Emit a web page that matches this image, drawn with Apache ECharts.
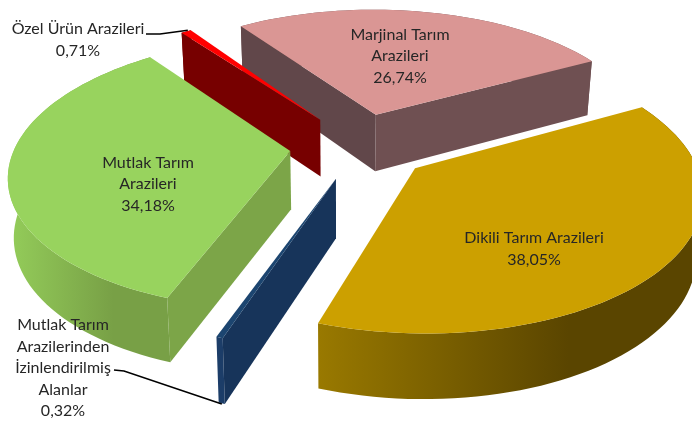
<!DOCTYPE html>
<html>
<head>
<meta charset="utf-8">
<style>html,body{margin:0;padding:0;background:#fff}#main{width:692px;height:422px}</style>
<script src="https://cdn.jsdelivr.net/npm/echarts@6/dist/echarts.min.js"></script>
</head>
<body>
<div id="main"></div>
<script>
// pie order, clockwise from the Marjinal / Dikili boundary
var categories = ['Dikili Tarım Arazileri', 'Mutlak Tarım\nArazilerinden\nİzinlendirilmiş\nAlanlar', 'Mutlak Tarım\nArazileri', 'Özel Ürün Arazileri', 'Marjinal Tarım\nArazileri'];
var values = [38.05, 0.32, 34.18, 0.71, 26.74];

// look of each slice, same order as above
var topColors = ['#cca000', '#1c4570', '#98d35e', '#ff0000', '#da9694'];
var startWall = ['#5a4500', '#17345a', '#7ca548', '#770000', '#61474a'];
var endWall = ['#5a4500', '#17345a', '#7ca548', '#770000', '#6f5052'];
var arcWall = [['#997900', '#5a4500'], ['#1c3d68', '#1c3d68'], ['#94cd5a', '#78a046'], ['#770000', '#770000'], ['#6f5052', '#6f5052']];
var paintOrder = [40, 30, 20, 10, 0];
var labelAt = [[534, 249], [63, 368], [148, 184], [78, 40], [400, 56]];

// pie plane -> page, a simple perspective view from above
var startAngle = -28.3, explode = 0.255;
var cx = 360, cy = 146, rx = 275, ry = 131, persp = 0.16;
var depth = 58, depthPersp = 0.1, shrink = 0.982;

function rad(d) { return d * Math.PI / 180; }

function project(u, v, bottom)
{
    var w = 1 - persp * v;
    var x = cx + rx * u / w;
    var y = cy + ry * v / w;
    if (bottom)
    {
        x = 340 + (x - 340) * shrink;
        y = y + depth / (1 - depthPersp * v);
    }
    return [x, y];
}

var myChart = echarts.init(document.getElementById('main'));

function renderSlice(params, api)
{
    var i = params.dataIndex;
    var total = values.reduce(function (a, b) { return a + b; }, 0);
    var before = 0;
    for (var k = 0; k < i; k++) before += values[k];
    var t0 = startAngle + before / total * 360;
    var t1 = t0 + api.value(0) / total * 360;
    var mid = rad((t0 + t1) / 2);
    var u0 = explode * Math.cos(mid), v0 = explode * Math.sin(mid);

    var pt = function (t, bottom)
    {
        return api.coord(project(u0 + Math.cos(rad(t)), v0 + Math.sin(rad(t)), bottom));
    };
    var apex = function (bottom) { return api.coord(project(u0, v0, bottom)); };

    var topArc = [], lowArc = [];
    var n = Math.max(2, Math.ceil((t1 - t0) / 2));
    for (var s = 0; s <= n; s++)
    {
        var t = t0 + (t1 - t0) * s / n;
        topArc.push(pt(t, false));
        lowArc.push(pt(t, true));
    }

    var z = paintOrder[i];
    var children = [];
    var poly = function (points, fill, z2)
    {
        children.push({ type: 'polygon', shape: { points: points }, z2: z2, style: { fill: fill } });
    };
    var area = function (p)
    {
        var a = 0;
        for (var j = 0; j < p.length; j++)
        {
            var q = p[(j + 1) % p.length];
            a += p[j][0] * q[1] - q[0] * p[j][1];
        }
        return a;
    };

    // outer wall first, then whichever cut walls face the camera
    poly(topArc.concat(lowArc.slice().reverse()), new echarts.graphic.LinearGradient(0, 0, 1, 0, [
        { offset: 0, color: arcWall[i][0] },
        { offset: 0.65, color: arcWall[i][1] },
        { offset: 1, color: arcWall[i][1] }
    ]), z);
    var w0 = [apex(false), pt(t0, false), pt(t0, true), apex(true)];
    var w1 = [pt(t1, false), apex(false), apex(true), pt(t1, true)];
    if (area(w0) < 0) poly(w0, startWall[i], z + 1);
    if (area(w1) < 0) poly(w1, endWall[i], z + 1);
    poly([apex(false)].concat(topArc), topColors[i], z + 2);

    children.push({
        type: 'text',
        z2: 100,
        style: {
            x: labelAt[i][0],
            y: labelAt[i][1],
            text: categories[i] + '\n' + api.value(0).toFixed(2).replace('.', ',') + '%',
            fill: '#262626',
            font: '16px Lato',
            lineHeight: 21.5,
            align: 'center',
            verticalAlign: 'middle'
        }
    });

    // leader lines of the two thin slices
    var leaderStart = { 1: [[114, 370], [124, 371]], 3: [[146, 34], [160, 34]] }[i];
    if (leaderStart)
    {
        var tip = i == 1 ? pt(t0, true) : pt(t1, false);
        children.push({
            type: 'polyline',
            z2: 90,
            shape: { points: leaderStart.concat([[tip[0] - 3, tip[1]]]) },
            style: { stroke: '#000', lineWidth: 1.5, fill: null }
        });
    }
    return { type: 'group', children: children };
}

option =
{
    animation: false,
    backgroundColor: '#fff',
    grid: { left: 0, right: 0, top: 0, bottom: 0 },
    xAxis: { type: 'value', min: 0, max: 692, show: false },
    yAxis: { type: 'value', min: 0, max: 422, inverse: true, show: false },
    series:
    {
        type: 'custom',
        clip: false,
        renderItem: renderSlice,
        encode: { x: 0, y: 0 },
        data: values.map(function (v) { return [v]; })
    }
};

myChart.setOption(option);
</script>
</body>
</html>
